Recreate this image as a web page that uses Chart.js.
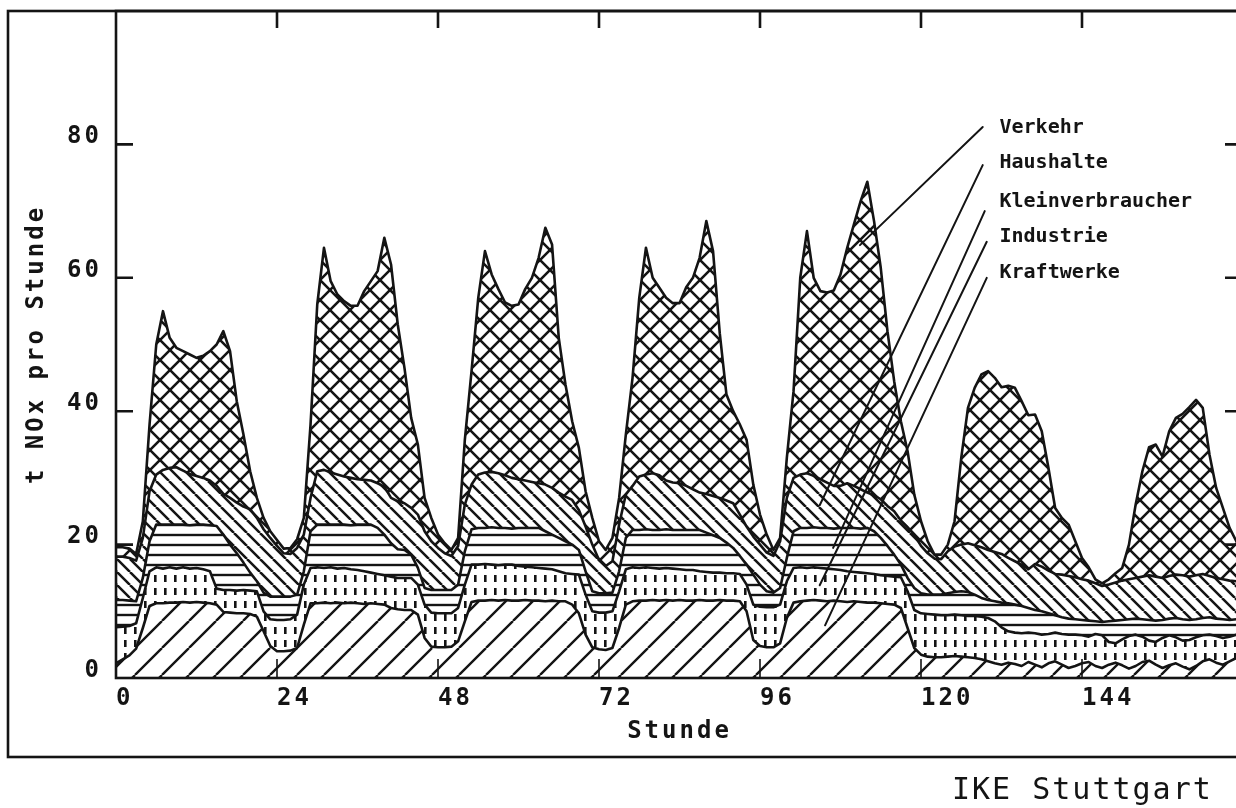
<!DOCTYPE html>
<html lang="de">
<head>
<meta charset="utf-8">
<title>NOx-Emissionen pro Stunde</title>
<script src="https://cdn.jsdelivr.net/npm/chart.js@4.4.1/dist/chart.umd.min.js"></script>
<style>
  html, body { margin: 0; padding: 0; background: #fff; overflow: hidden; }
  #wrap { position: relative; width: 1236px; height: 808px; overflow: hidden; }
  #chart { position: absolute; left: 0; top: 0; }
  #ike {
    position: absolute; left: 952px; top: 774px;
    font: 30px "DejaVu Sans Mono", "Liberation Mono", monospace;
    letter-spacing: 2px; line-height: 30px; color: #141414; white-space: nowrap;
  }
</style>
</head>
<body>
<div id="wrap">
  <canvas id="chart" width="1260" height="808"></canvas>
  <div id="ike">IKE Stuttgart</div>
</div>
<script>
const hours = Array.from({ length: 169 }, (_, i) => i);

// upper edge of each band in t NOx per hour, read hour by hour, one row per day
const kraftwerke = [
  2.2, 2.8, 3.4, 4.4, 7.5, 10.8, 11.2, 11.2, 11.3, 11.3, 11.4, 11.3, 11.4, 11.3, 11.2, 11.0, 9.9, 9.8, 9.7, 9.7, 9.6, 9.2, 7.0, 4.8,
  4.0, 4.0, 4.1, 4.5, 8.0, 11.2, 11.2, 11.3, 11.2, 11.3, 11.2, 11.3, 11.2, 11.1, 11.2, 11.1, 11.0, 10.5, 10.3, 10.2, 10.2, 9.5, 6.0, 4.7,
  4.6, 4.6, 4.7, 5.5, 8.5, 11.4, 11.6, 11.6, 11.7, 11.6, 11.7, 11.6, 11.6, 11.7, 11.6, 11.6, 11.5, 11.6, 11.5, 11.5, 11.0, 9.7, 6.5, 4.6,
  4.3, 4.2, 4.5, 7.5, 11.0, 11.5, 11.6, 11.6, 11.7, 11.6, 11.7, 11.6, 11.7, 11.6, 11.6, 11.7, 11.6, 11.6, 11.7, 11.6, 11.6, 11.5, 10.0, 5.7,
  4.8, 4.6, 4.6, 5.2, 9.0, 11.3, 11.5, 11.6, 11.7, 11.6, 11.5, 11.6, 11.5, 11.4, 11.5, 11.4, 11.3, 11.3, 11.2, 11.1, 11.0, 10.5, 7.5, 4.5,
  3.5, 3.2, 3.1, 3.1, 3.2, 3.3, 3.2, 3.1, 3.0, 2.8, 2.5, 2.2, 2.0, 2.3, 2.1, 1.8, 2.4, 2.0, 1.6, 2.2, 2.5, 2.0, 1.5, 1.8,
  2.2, 2.4, 1.8, 1.5, 2.0, 2.3, 1.9, 1.4, 1.8, 2.4, 2.6, 2.0, 1.5, 1.9, 2.2, 1.7, 1.3, 1.8, 2.5, 2.8, 2.3, 2.0, 2.5, 3.0, 3.2
];
const industrie = [
  7.6, 7.7, 7.8, 8.2, 12.0, 16.0, 16.6, 16.4, 16.6, 16.4, 16.6, 16.4, 16.5, 16.3, 16.0, 13.4, 13.2, 13.2, 13.1, 13.2, 13.1, 13.0, 10.0, 8.8,
  8.7, 8.7, 8.8, 9.5, 14.0, 16.5, 16.6, 16.5, 16.6, 16.4, 16.5, 16.3, 16.2, 16.0, 15.8, 15.6, 15.4, 15.2, 15.0, 15.0, 15.0, 14.0, 11.0, 9.8,
  9.7, 9.7, 9.7, 10.5, 14.0, 17.0, 17.0, 17.1, 17.0, 16.9, 17.0, 17.0, 16.8, 16.7, 16.6, 16.5, 16.4, 16.3, 16.0, 15.7, 15.6, 15.5, 12.5, 10.0,
  9.8, 9.8, 10.0, 13.0, 16.3, 16.6, 16.5, 16.6, 16.5, 16.4, 16.5, 16.4, 16.3, 16.2, 16.2, 16.0, 15.9, 15.8, 15.8, 15.7, 15.7, 15.6, 14.0, 11.0,
  10.7, 10.6, 10.6, 11.0, 14.5, 16.5, 16.6, 16.5, 16.6, 16.5, 16.4, 16.3, 16.2, 16.0, 15.9, 15.8, 15.7, 15.6, 15.4, 15.3, 15.2, 15.1, 13.0, 10.2,
  9.7, 9.6, 9.5, 9.4, 9.4, 9.5, 9.4, 9.3, 9.3, 9.2, 9.0, 8.5, 7.6, 7.0, 6.8, 6.7, 6.8, 6.7, 6.5, 6.6, 6.8, 6.6, 6.5, 6.5,
  6.4, 6.2, 6.6, 6.4, 5.4, 5.2, 5.8, 6.3, 6.5, 6.2, 5.6, 5.4, 6.0, 6.4, 6.1, 5.6, 5.7, 6.1, 6.4, 6.5, 6.3, 6.0, 6.2, 6.5, 6.6
];
const kleinverbraucher = [
  11.7, 11.7, 11.6, 11.5, 15.0, 20.5, 23.0, 23.0, 23.0, 23.0, 23.0, 22.9, 23.0, 23.0, 22.9, 22.8, 21.5, 20.0, 18.7, 17.3, 15.8, 14.5, 12.8, 12.2,
  12.2, 12.2, 12.2, 12.5, 16.0, 22.0, 23.0, 23.0, 23.0, 23.0, 23.0, 22.9, 23.0, 23.0, 23.0, 22.5, 21.5, 20.2, 19.3, 19.2, 18.5, 16.5, 13.5, 13.2,
  13.2, 13.2, 13.2, 14.0, 19.0, 22.3, 22.5, 22.5, 22.6, 22.5, 22.5, 22.4, 22.5, 22.5, 22.5, 22.5, 22.0, 21.5, 21.0, 20.5, 20.0, 19.2, 16.0, 13.0,
  12.7, 12.7, 12.8, 16.0, 21.0, 22.2, 22.2, 22.3, 22.2, 22.2, 22.3, 22.2, 22.2, 22.2, 22.2, 22.2, 21.8, 21.4, 21.0, 20.3, 19.5, 18.3, 17.0, 15.5,
  14.0, 13.0, 12.8, 13.5, 18.0, 22.0, 22.5, 22.5, 22.6, 22.5, 22.5, 22.4, 22.5, 22.5, 22.5, 22.4, 22.5, 22.0, 21.0, 19.8, 18.5, 17.0, 15.0, 13.5,
  12.7, 12.5, 12.5, 12.5, 12.7, 12.9, 13.0, 12.9, 12.5, 12.0, 11.7, 11.5, 11.3, 11.2, 11.0, 10.8, 10.5, 10.2, 10.0, 9.7, 9.4, 9.1, 8.9, 8.8,
  8.7, 8.6, 8.5, 8.4, 8.5, 8.6, 8.7, 8.8, 8.9, 8.8, 8.7, 8.6, 8.7, 8.9, 9.0, 8.8, 8.7, 8.8, 9.0, 9.1, 8.9, 8.8, 8.7, 8.8, 8.9
];
const haushalte = [
  18.2, 18.2, 18.0, 17.6, 21.0, 28.0, 30.5, 31.2, 31.5, 31.6, 31.1, 30.6, 30.3, 30.0, 29.6, 28.8, 27.6, 27.0, 26.3, 25.7, 25.3, 24.0, 22.3, 21.0,
  19.8, 18.7, 18.6, 19.5, 21.5, 27.0, 31.0, 31.2, 30.8, 30.5, 30.2, 30.0, 29.8, 29.7, 29.6, 29.2, 28.7, 27.0, 26.5, 26.2, 25.5, 24.5, 22.0, 20.5,
  19.5, 18.7, 18.3, 19.8, 26.0, 29.0, 30.5, 30.8, 30.9, 30.7, 30.4, 30.0, 29.8, 29.6, 29.4, 29.2, 29.0, 28.5, 27.8, 27.2, 26.7, 25.2, 22.7, 20.0,
  17.7, 16.8, 17.5, 23.0, 27.5, 28.8, 30.2, 30.5, 30.7, 30.4, 29.6, 29.3, 29.2, 28.8, 28.3, 27.8, 27.6, 27.3, 27.0, 26.6, 26.2, 24.5, 22.7, 21.2,
  20.0, 18.8, 18.3, 20.5, 27.0, 30.0, 30.5, 30.7, 30.3, 29.8, 29.3, 28.8, 28.8, 29.2, 28.8, 28.3, 27.8, 27.4, 26.8, 25.8, 25.0, 23.6, 22.6, 21.5,
  19.8, 18.7, 17.9, 17.8, 19.0, 19.7, 20.0, 20.2, 19.9, 19.6, 19.2, 18.9, 18.6, 18.0, 17.5, 17.0, 16.3, 17.1, 16.7, 16.1, 15.6, 15.5, 15.3, 15.1,
  14.8, 14.6, 14.2, 13.8, 14.0, 14.3, 14.6, 14.8, 15.0, 15.2, 15.4, 15.2, 15.0, 15.3, 15.5, 15.4, 15.2, 15.4, 15.6, 15.3, 15.0, 14.8, 14.6, 14.5, 14.4
];
const verkehr = [
  19.6, 19.6, 19.4, 18.6, 23.5, 38.0, 50.0, 55.0, 51.0, 49.5, 49.0, 48.5, 48.0, 48.3, 49.0, 50.0, 52.0, 49.0, 41.5, 36.5, 31.0, 27.0, 24.0, 22.0,
  20.7, 19.4, 19.5, 20.8, 24.0, 38.0, 56.0, 64.5, 59.5, 57.5, 56.5, 55.8, 55.8, 58.0, 59.5, 61.0, 66.0, 62.0, 53.0, 46.5, 39.0, 35.0, 27.0, 24.0,
  21.5, 20.2, 19.2, 21.0, 35.7, 46.0, 57.0, 64.0, 60.5, 58.3, 56.3, 55.8, 56.0, 58.3, 60.0, 63.0, 67.5, 65.0, 51.0, 44.0, 38.5, 34.5, 28.0, 24.0,
  20.5, 19.2, 21.0, 27.0, 36.5, 45.0, 57.0, 64.5, 60.0, 58.5, 57.0, 56.2, 56.2, 58.6, 60.0, 63.0, 68.5, 64.0, 51.7, 42.5, 40.0, 38.0, 35.7, 29.0,
  24.5, 21.5, 19.2, 21.0, 33.0, 43.0, 60.0, 67.0, 60.0, 58.0, 57.8, 58.1, 60.5, 64.5, 68.0, 71.5, 74.4, 68.5, 61.5, 52.0, 44.5, 38.5, 34.0, 27.5,
  23.5, 20.5, 18.5, 18.5, 20.0, 23.5, 33.0, 40.5, 43.5, 45.5, 46.0, 45.0, 43.6, 43.8, 43.5, 41.5, 39.4, 39.5, 37.0, 31.5, 25.5, 24.0, 23.0, 20.5,
  18.0, 16.6, 14.8, 14.2, 14.8, 15.7, 16.5, 20.0, 26.0, 31.0, 34.6, 35.0, 33.2, 37.0, 39.0, 39.6, 40.6, 41.7, 40.5, 33.5, 28.5, 25.5, 22.5, 20.5, 19.5
];

const sectors = ['Kraftwerke', 'Industrie', 'Kleinverbraucher', 'Haushalte', 'Verkehr'];
const xTicks = [0, 24, 48, 72, 96, 120, 144];
const yTicks = [0, 20, 40, 60, 80];

// sector labels and their leader lines, in axis units (Stunde, t/h)
const labelX = 131.7;
const labelY = [60.0, 65.4, 70.6, 76.5, 81.7];
const leaderFrom = [[129.8, 60.0], [129.8, 65.4], [129.5, 70.0], [129.2, 76.9], [129.2, 82.6]];
const leaderTo = [[105.7, 7.9], [104.9, 13.9], [106.9, 19.5], [104.9, 25.9], [110.9, 64.9]];

const ink = '#141414';
const mono = '"DejaVu Sans Mono", "Liberation Mono", monospace';

function makePattern(w, h, paint) {
  const tile = document.createElement('canvas');
  tile.width = w;
  tile.height = h;
  const g = tile.getContext('2d');
  g.fillStyle = '#fff';
  g.fillRect(0, 0, w, h);
  g.strokeStyle = ink;
  g.fillStyle = ink;
  paint(g, w, h);
  return g.createPattern(tile, 'repeat');
}

function diagonals(g, s, rising) {
  g.beginPath();
  for (const o of [-s, 0, s]) {
    if (rising) { g.moveTo(o, s); g.lineTo(o + s, 0); }
    else { g.moveTo(o, 0); g.lineTo(o + s, s); }
  }
  g.stroke();
}

const patterns = [
  makePattern(27, 27, (g, s) => { g.lineWidth = 2.4; diagonals(g, s, true); }),
  makePattern(10, 13, (g) => { g.fillRect(4, 3, 2.6, 7); }),
  makePattern(10, 10, (g, w) => { g.lineWidth = 2.4; g.beginPath(); g.moveTo(0, 5); g.lineTo(w, 5); g.stroke(); }),
  makePattern(13, 13, (g, s) => { g.lineWidth = 2.5; diagonals(g, s, false); }),
  makePattern(20, 20, (g, s) => { g.lineWidth = 2.6; diagonals(g, s, true); diagonals(g, s, false); })
];

const bands = [kraftwerke, industrie, kleinverbraucher, haushalte, verkehr];

const decorations = {
  id: 'decorations',
  beforeDraw(chart) {
    chart.ctx.letterSpacing = '3px';
  },
  afterDatasetsDraw(chart) {
    const { ctx, chartArea: a, scales: { x, y } } = chart;
    ctx.save();
    ctx.strokeStyle = ink;
    ctx.lineWidth = 2.6;
    ctx.strokeRect(a.left, a.top, a.right - a.left, a.bottom - a.top);

    // ticks point into the plot
    ctx.beginPath();
    xTicks.slice(1).forEach(v => {
      const px = x.getPixelForValue(v);
      ctx.moveTo(px, a.top);
      ctx.lineTo(px, a.top + 17);
    });
    yTicks.slice(1).forEach(v => {
      const py = y.getPixelForValue(v);
      ctx.moveTo(a.left, py);
      ctx.lineTo(a.left + 17, py);
      ctx.moveTo(a.right, py);
      ctx.lineTo(a.right - 18, py);
    });
    ctx.stroke();
    ctx.lineWidth = 1.6;
    ctx.beginPath();
    xTicks.slice(1).forEach(v => {
      const px = x.getPixelForValue(v);
      ctx.moveTo(px, a.bottom);
      ctx.lineTo(px, a.bottom - 19);
    });
    ctx.stroke();
    ctx.restore();
  },
  afterDraw(chart) {
    const { ctx, scales: { x, y } } = chart;
    ctx.save();
    ctx.letterSpacing = '0px';
    ctx.strokeStyle = ink;
    ctx.fillStyle = ink;

    // outer frame of the figure
    ctx.lineWidth = 2.6;
    ctx.strokeRect(8, 11, 1250, 746);

    ctx.lineWidth = 2;
    ctx.lineCap = 'round';
    ctx.font = 'bold 20px ' + mono;
    ctx.textBaseline = 'alphabetic';
    sectors.forEach((name, i) => {
      ctx.beginPath();
      ctx.moveTo(x.getPixelForValue(leaderFrom[i][0]), y.getPixelForValue(leaderFrom[i][1]));
      ctx.lineTo(x.getPixelForValue(leaderTo[i][0]), y.getPixelForValue(leaderTo[i][1]));
      ctx.stroke();
      ctx.fillText(name, x.getPixelForValue(labelX), y.getPixelForValue(labelY[i]));
    });
    ctx.restore();
  }
};

new Chart(document.getElementById('chart'), {
  type: 'line',
  data: {
    labels: hours,
    datasets: sectors.map((name, i) => ({
      label: name,
      data: bands[i],
      fill: i === 0 ? 'origin' : '-1',
      backgroundColor: patterns[i],
      borderColor: ink,
      borderWidth: 2.6,
      borderJoinStyle: 'round',
      pointRadius: 0,
      tension: 0
    }))
  },
  options: {
    responsive: false,
    animation: false,
    devicePixelRatio: 1,
    layout: { padding: { left: 0, top: 11, right: 17, bottom: 50 } },
    plugins: { legend: { display: false }, tooltip: { enabled: false } },
    scales: {
      x: {
        type: 'linear',
        min: 0,
        max: 168,
        afterBuildTicks: s => { s.ticks = xTicks.map(v => ({ value: v })); },
        afterFit: s => { s.height = 80; s.paddingLeft = 0; s.paddingRight = 0; },
        grid: { display: false, drawTicks: false },
        border: { display: false },
        ticks: {
          align: 'start', padding: 6, maxRotation: 0, autoSkip: false, color: ink,
          font: { family: mono, size: 24, weight: 'bold' }
        },
        title: {
          display: true, text: 'Stunde', color: ink,
          font: { family: mono, size: 24, weight: 'bold' },
          padding: { top: 0, bottom: 12 }
        }
      },
      y: {
        min: 0,
        max: 100,
        afterBuildTicks: s => { s.ticks = yTicks.map(v => ({ value: v })); },
        afterFit: s => { s.width = 116; s.paddingTop = 0; s.paddingBottom = 0; },
        grid: { display: false, drawTicks: false },
        border: { display: false },
        ticks: {
          padding: 14, labelOffset: -7.5, color: ink,
          font: { family: mono, size: 24, weight: 'bold' }
        },
        title: {
          display: true, text: 't NOx pro Stunde', color: ink,
          font: { family: mono, size: 24, weight: 'bold' },
          padding: { top: 22, bottom: 0 }
        }
      }
    }
  },
  plugins: [decorations]
});
</script>
</body>
</html>
